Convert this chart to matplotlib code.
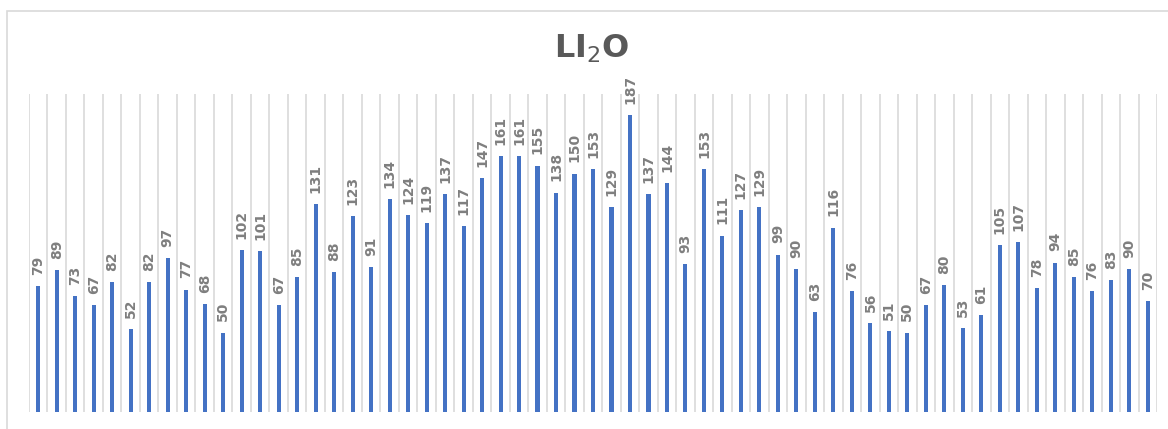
import numpy as np
import matplotlib.pyplot as plt
from matplotlib.patches import Rectangle

# values, left to right
values = [79, 89, 73, 67, 82, 52, 82, 97, 77, 68,
          50, 102, 101, 67, 85, 131, 88, 123, 91, 134,
          124, 119, 137, 117, 147, 161, 161, 155, 138, 150,
          153, 129, 187, 137, 144, 93, 153, 111, 127, 129,
          99, 90, 63, 116, 76, 56, 51, 50, 67, 80,
          53, 61, 105, 107, 78, 94, 85, 76, 83, 90,
          70]
title = r"$\mathbf{LI}_{2}\mathbf{O}$"

x = np.arange(len(values))

plt.rcParams["mathtext.fontset"] = "dejavusans"
fig = plt.figure(figsize=(11.68, 4.29), dpi=100)
# light outer frame of the chart area (right and bottom edges run off the image)
fig.patches.append(Rectangle((7/1168, -0.05), 1.2, 1.05 - 11/429,
                             transform=fig.transFigure, fill=False,
                             edgecolor="#D9D9D9", linewidth=1.2))

ax = fig.add_axes([29/1168, 17/429, 1128/1168, 318/429])
bars = ax.bar(x, values, width=0.22, color="#4472C4", zorder=3)
ax.bar_label(bars, rotation=90, padding=8, fontsize=10, fontweight="bold",
             color="#7F7F7F")

ax.set_xlim(-0.5, len(values) - 0.5)
ax.set_ylim(0, 200)
ax.set_xticks(np.arange(-0.5, len(values)))
ax.set_xticklabels([])
ax.tick_params(axis="both", length=0)
ax.set_yticks([])
ax.grid(axis="x", color="#D9D9D9", linewidth=1.2, zorder=0)
for s in ax.spines.values():
    s.set_visible(False)

fig.text(592/1168, 1 - 49/429, title, ha="center", va="center", fontsize=23,
         color="#595959")

fig.savefig("out.png", dpi=100)
